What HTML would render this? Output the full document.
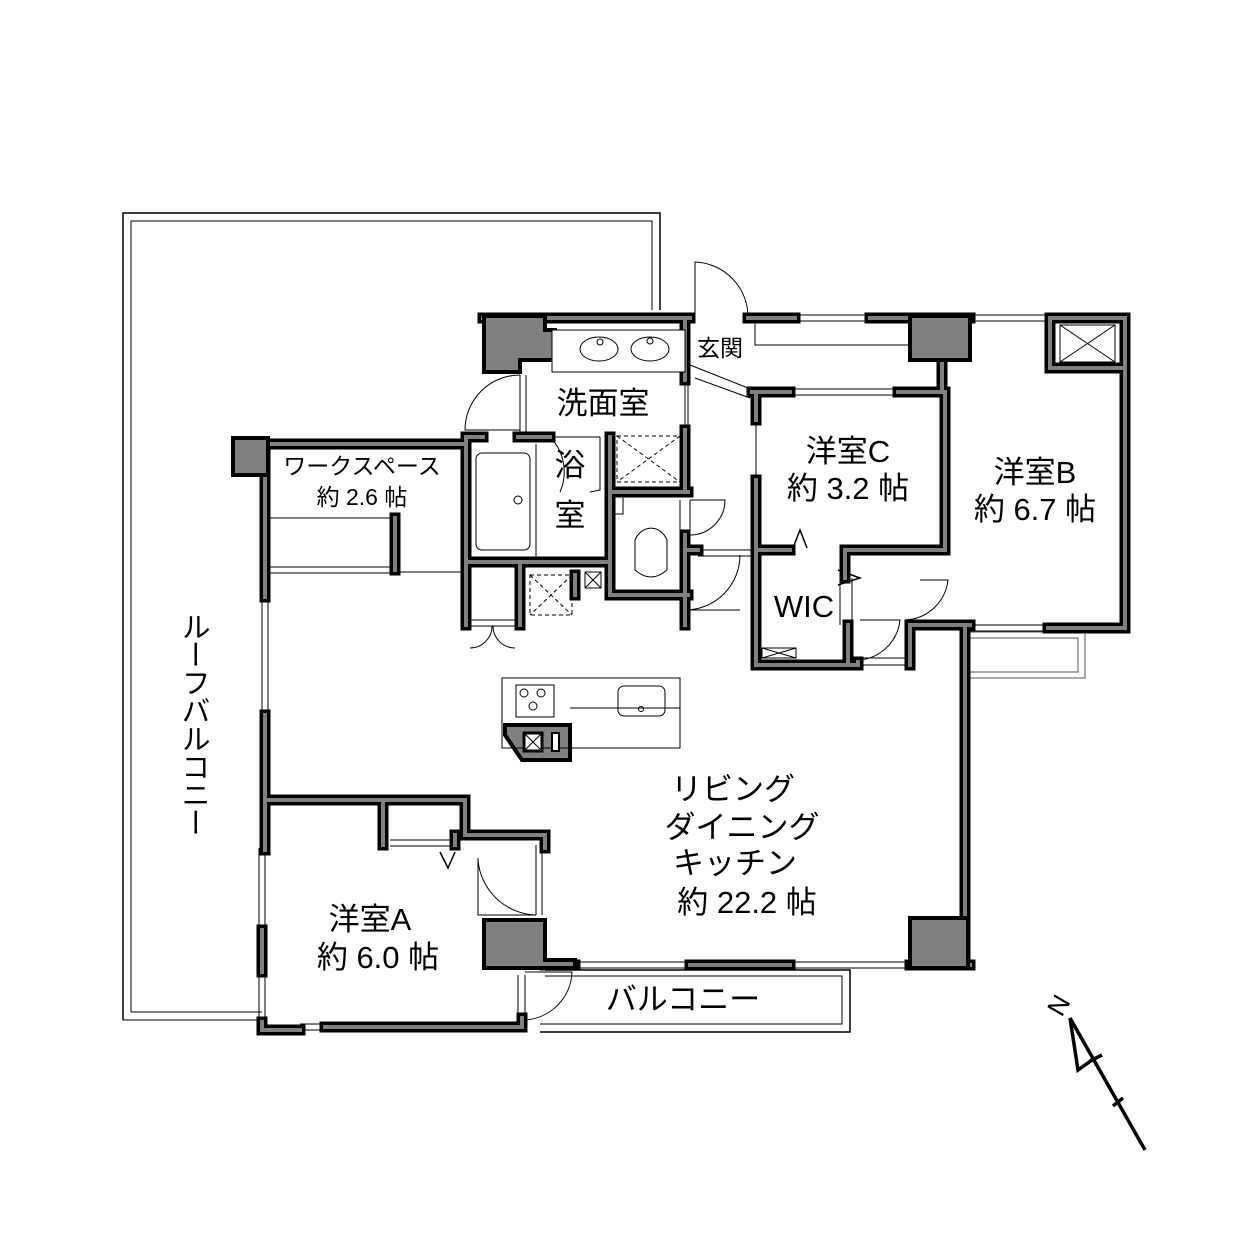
<!DOCTYPE html>
<html><head><meta charset="utf-8"><style>
html,body{margin:0;padding:0;background:#fff}
#w{position:relative;width:1252px;height:1252px;overflow:hidden;font-family:"Liberation Sans","Noto Sans CJK JP",sans-serif}
svg{position:absolute;left:0;top:0}
svg text{font-family:"Liberation Sans","Noto Sans CJK JP",sans-serif;fill:#000}
.v{position:absolute;left:181px;top:612px;writing-mode:vertical-rl;font-size:29px;letter-spacing:-1px;line-height:30px;font-family:"Noto Sans CJK JP",sans-serif}
</style></head><body><div id="w">
<svg width="1252" height="1252" viewBox="0 0 1252 1252">
<defs>
<path id="walls" d="M237,444 L466,444 M265,444 L265,597 M265,715 L265,850 M262,930 L262,972 M262,1022 L262,1030 L300,1030
M265,800 L465,800 L465,835 L545,835 L545,848 M383,800 L383,845 M455,835 L455,845
M466,440 L466,625 M466,562 L610,562 M520,562 L520,625 M610,437 L610,595 L688,595 M575,575 L575,595
M466,437 L483,437 M518,437 L550,437 M685,318 L685,380 M685,430 L685,492 M610,492 L688,492 M685,535 L685,625 M685,550 L698,550
M483,318 L690,318 M748,318 L795,318 M870,318 L970,318
M752,392 L790,392 M898,392 L945,392 L945,550 L845,550 L845,578 M942,362 L942,392
M756,392 L756,420 M756,480 L756,665 L858,665 M848,625 L848,665 M756,550 L790,550
M1050,318 L1125,318 L1125,628 L1048,628 M1050,318 L1050,368 L1125,368
M910,665 L910,625 L970,625 M965,625 L965,965
M545,965 L575,965 M690,965 L790,965 M910,965 L970,965
M325,1027 L522,1027 L522,1018 M395,518 L395,570 M858,662 L858,665"/>
</defs>
<g fill="none">
<path d="M123,1020 L123,213 L660,213 L660,310" stroke="#000" stroke-width="1.5"/>
<path d="M131,1012 L131,221 L652,221 L652,310" stroke="#000" stroke-width="1"/>
<path d="M123,1020 L262,1020 M131,1012 L262,1012" stroke="#000" stroke-width="1"/>
<path d="M545,970 L850,970 L850,1032 L540,1032" stroke="#000" stroke-width="1.5"/>
<path d="M545,976 L842,976 L842,1024 L540,1024" stroke="#000" stroke-width="1"/>
<path d="M970,632 L1085,632 L1085,678 L970,678 M970,638 L1078,638 L1078,672 L970,672" stroke="#555" stroke-width="1"/>
<g stroke="#000" stroke-width="1">
<path d="M795,315 L870,315 M795,321 L870,321 M970,315 L1050,315 M970,321 L1050,321 M790,389 L898,389 M790,395 L898,395
M970,625 L1048,625 M970,631 L1048,631 M575,962 L690,962 M575,968 L690,968 M790,962 L910,962 M790,968 L910,968
M262,597 L262,715 M268,597 L268,715 M259,848 L259,930 M265,848 L265,930 M259,972 L259,1022 M265,972 L265,1022
M300,1024 L325,1024 M300,1030 L325,1030 M268,567 L390,567 M268,573 L390,573 M268,518 L390,518 M400,572 L463,572
M690,314 L690,380 M748,314 L748,320 M755,322 L755,345 L910,345 M690,365 L748,388 M695,378 L750,398
M520,375 L520,435 M526,375 L526,435 M685,380 L685,430 M688,380 L688,430
M536,845 L536,915 M542,845 L542,915 M518,975 L518,1020 M525,975 L525,1020
M390,840 L455,840 M390,846 L455,846 M756,420 L756,480 M840,578 L840,625 M852,578 L852,625
M680,500 L680,535 M690,500 L690,535 M698,550 L756,550 M698,556 L756,556 M858,658 L905,658 M858,665 L905,665
M470,620 L515,620 M470,626 L515,626 M910,630 L910,658 M550,437 L600,437 M600,437 L600,490 L590,492"/>
<path d="M520,375 A55,55 0 0 0 465,430 L520,430 M748,318 A55,55 0 0 0 695,262 L695,318 M690,535 A35,35 0 0 0 725,500 L690,500
M740,555 A55,55 0 0 1 685,610 L740,610 M478,860 A60,60 0 0 0 536,915 L478,915 L478,858 M525,1020 A50,50 0 0 0 572,972 L525,972
M905,620 A45,45 0 0 0 948,580 L920,580 M860,660 A45,45 0 0 0 900,620 L860,620 M550,437 A50,50 0 0 1 560,492
M470,648 A22,22 0 0 0 492,626 M515,648 A22,22 0 0 1 493,626"/>
<path d="M838,585 L860,578 L838,570 M440,852 L448,868 L455,852 M793,548 L800,530 L807,548" stroke-width="1.5"/>
</g>
<use href="#walls" stroke="#000" stroke-width="11" stroke-linecap="square"/>
<use href="#walls" stroke="#808080" stroke-width="4" stroke-linecap="square"/>
</g>
<g fill="#808080" stroke="#000" stroke-width="4">
<path d="M484,316 L545,316 L545,330 L555,330 L555,360 L520,360 L520,372 L484,372Z"/>
<path d="M910,316 L970,316 L970,360 L910,360Z"/>
<path d="M233,438 L268,438 L268,475 L233,475Z"/>
<path d="M484,920 L545,920 L545,960 L575,960 L575,968 L484,968Z"/>
<path d="M910,918 L968,918 L968,968 L910,968Z"/>
<path d="M505,725 L570,725 L570,760 L522,760 L505,735Z"/>
</g>
<g fill="none" stroke="#000" stroke-width="1">
<rect x="552" y="330" width="133" height="42" fill="#fff"/>
<ellipse cx="599" cy="349" rx="19" ry="12"/><ellipse cx="650" cy="349" rx="19" ry="12"/>
<circle cx="600" cy="342" r="3"/><circle cx="650" cy="341" r="3"/>
<rect x="476" y="453" width="54" height="97" rx="6"/><circle cx="518" cy="500" r="4"/>
<path d="M536,444 L536,557"/>
<rect x="617" y="436" width="63" height="46" stroke-dasharray="4,3"/>
<path d="M617,436 L680,482 M680,436 L617,482" stroke-dasharray="4,3"/>
<rect x="530" y="575" width="42" height="40" stroke-dasharray="4,3"/>
<path d="M530,575 L572,615 M572,575 L530,615" stroke-dasharray="4,3"/>
<rect x="613" y="497" width="10" height="17"/>
<path d="M635,570 L635,540 A18,22 0 0 1 667,540 L667,570 Q651,584 635,570Z"/>
<rect x="585" y="572" width="16" height="16"/><path d="M585,572 L601,588 M601,572 L585,588"/>
<rect x="1060" y="325" width="55" height="37"/><path d="M1060,325 L1115,362 M1115,325 L1060,362"/>
<rect x="762" y="648" width="34" height="10"/><path d="M762,648 L796,658 M796,648 L762,658"/>
<rect x="502" y="678" width="178" height="70"/><path d="M570,708 L680,708"/>
<rect x="516" y="685" width="38" height="32"/><circle cx="524" cy="693" r="4"/><circle cx="541" cy="693" r="4"/><circle cx="533" cy="706" r="4"/>
<rect x="618" y="686" width="47" height="30" rx="6"/><circle cx="641" cy="709" r="2.5"/>
<rect x="524" y="733" width="18" height="18" fill="#fff" stroke-width="3"/><path d="M524,733 L542,751 M542,733 L524,751"/>
<rect x="552" y="733" width="7" height="18" fill="#fff" stroke-width="2"/>
</g>
<g stroke="#000" stroke-width="3.5" fill="none">
<path d="M1070,1018 L1145,1150 M1070,1018 L1078,1070 L1092,1060 M1090,1061 L1102,1055 M1113,1106 L1123,1098"/>
</g>
<text x="1048" y="1012" font-size="26" transform="rotate(-60 1060 1003)">N</text>
<g font-size="23">
<text x="697" y="356">玄関</text>
<text x="362" y="474" text-anchor="middle">ワークスペース</text>
<text x="362" y="505" text-anchor="middle">約 2.6 帖</text>
</g>
<g font-size="31">
<text x="603" y="414" text-anchor="middle">洗面室</text>
<text x="570" y="476" text-anchor="middle">浴</text>
<text x="570" y="526" text-anchor="middle">室</text>
<text x="848" y="462" text-anchor="middle">洋室C</text>
<text x="848" y="499" text-anchor="middle">約 3.2 帖</text>
<text x="1035" y="483" text-anchor="middle">洋室B</text>
<text x="1035" y="520" text-anchor="middle">約 6.7 帖</text>
<text x="804" y="617" text-anchor="middle">WIC</text>
<text x="733" y="800" text-anchor="middle">リビング</text>
<text x="742" y="838" text-anchor="middle">ダイニング</text>
<text x="735" y="874" text-anchor="middle">キッチン</text>
<text x="747" y="913" text-anchor="middle">約 22.2 帖</text>
<text x="370" y="930" text-anchor="middle">洋室A</text>
<text x="378" y="968" text-anchor="middle">約 6.0 帖</text>
<text x="683" y="1010" text-anchor="middle">バルコニー</text>
</g>
</svg>
<div class="v">ルーフバルコニー</div>
</div></body></html>
